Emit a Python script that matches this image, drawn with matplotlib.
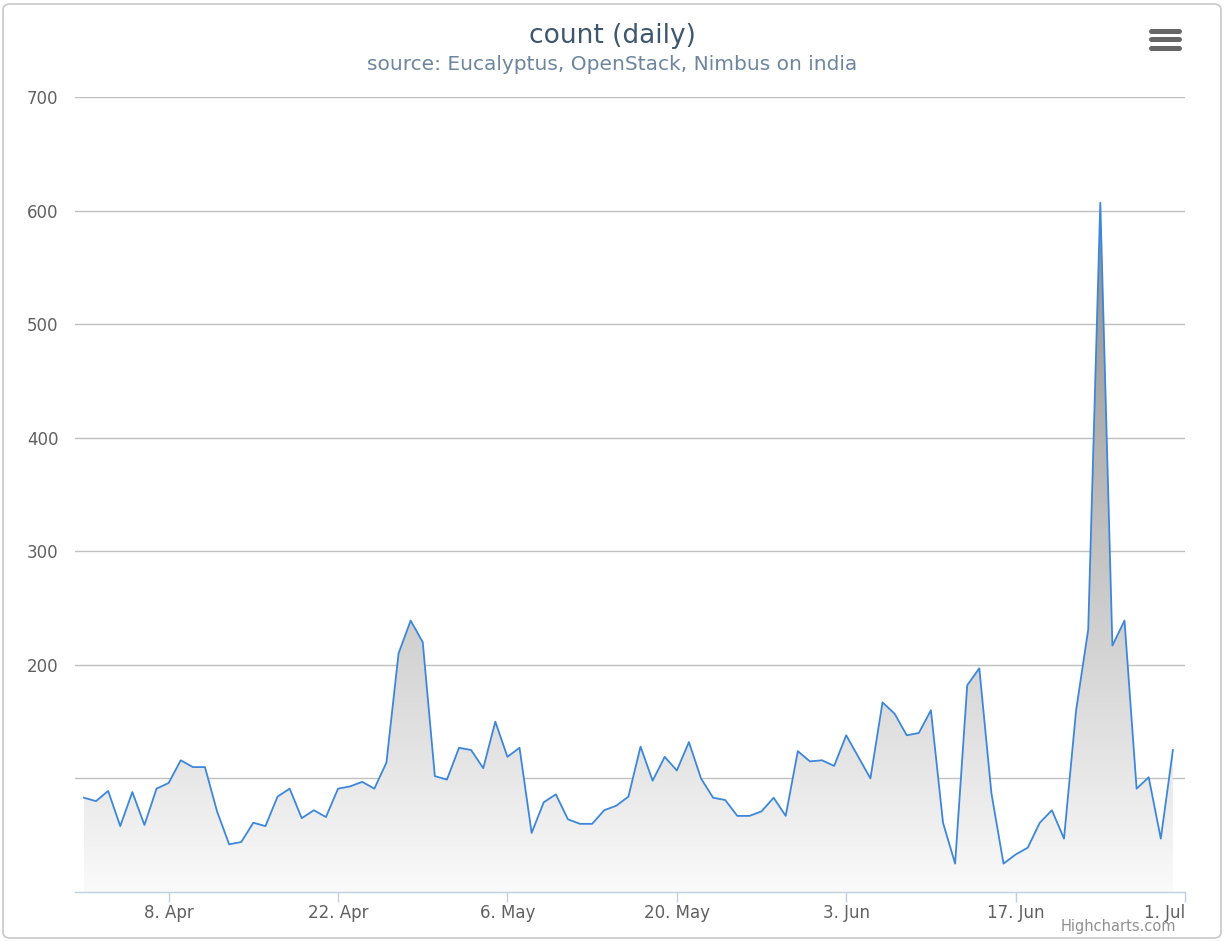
import numpy as np
import pandas as pd
import matplotlib
matplotlib.use("Agg")
import matplotlib.pyplot as plt
import matplotlib.dates as mdates
from matplotlib.patches import FancyBboxPatch
from matplotlib.lines import Line2D

# daily counts, 1 Apr .. 30 Jun
days = pd.date_range("2013-04-01", "2013-06-30", freq="D")
counts = [83, 80, 89, 58, 88, 59, 91, 96, 116, 110,
          110, 71, 42, 44, 61, 58, 84, 91, 65, 72,
          66, 91, 93, 97, 91, 114, 210, 239, 220, 102,
          99, 127, 125, 109, 150, 119, 127, 52, 79, 86,
          64, 60, 60, 72, 76, 84, 128, 98, 119, 107,
          132, 100, 83, 81, 67, 67, 71, 83, 67, 124,
          115, 116, 111, 138, 119, 100, 167, 157, 138, 140,
          160, 61, 25, 182, 197, 87, 25, 33, 39, 61,
          72, 47, 160, 231, 607, 217, 239, 91, 101, 47,
          125]
tick_dates = pd.date_range("2013-04-08", "2013-07-01", freq="14D")
y_ticks = [0, 100, 200, 300, 400, 500, 600, 700]
y_labels = ["", "", "200", "300", "400", "500", "600", "700"]

title = "count (daily)"
subtitle = "source: Eucalyptus, OpenStack, Nimbus on india"

W, H = 1225, 941
fig = plt.figure(figsize=(W / 100, H / 100), dpi=100)
ax = fig.add_axes([75 / W, 1 - 892 / H, (1185 - 75) / W, (892 - 97) / H])

x = mdates.date2num(days)
y = np.array(counts, dtype=float)

# gradient filled area
poly = ax.fill_between(x, 0, y, facecolor="none", edgecolor="none")
grad = np.linspace(0, 1, 256).reshape(-1, 1)
img = ax.imshow(grad, extent=[x[0], x[-1], 0, y.max()], origin="lower",
                aspect="auto", cmap=matplotlib.colors.LinearSegmentedColormap.from_list(
                    "g", ["#fafafa", "#8c8c8c"]), zorder=2)
img.set_clip_path(poly.get_paths()[0], transform=ax.transData)

ax.plot(x, y, color="#3d87db", lw=1.3, zorder=3)

ax.set_ylim(0, 700)
ax.set_xlim(x[0] - 0.74, mdates.date2num(pd.Timestamp("2013-07-01")))
ax.set_yticks(y_ticks)
ax.set_yticklabels(y_labels)
for v in y_ticks[1:]:
    ax.axhline(v, color="#c0c0c0", lw=1, zorder=1)

ax.set_xticks(mdates.date2num(tick_dates))
ax.xaxis.set_major_formatter(mdates.DateFormatter("%-d. %b"))
ax.tick_params(axis="x", length=7.5, width=1, color="#c0d0e0", pad=1,
               labelsize=12, labelcolor="#606060")
ax.tick_params(axis="y", length=0, pad=12, labelsize=12, labelcolor="#606060")
for lab in ax.get_xticklabels()[-1:]:
    lab.set_ha("right")

for s in ["top", "right", "left"]:
    ax.spines[s].set_visible(False)
ax.spines["bottom"].set_color("#c0d0e0")
ax.spines["bottom"].set_linewidth(1)
ax.set_facecolor("none")

fig.text(0.5, 1 - 36 / H, title, ha="center", va="center",
         fontsize=19, color="#3e576f")
fig.text(0.5, 1 - 64 / H, subtitle, ha="center", va="center",
         fontsize=14.5, color="#6d869f")
fig.text(1176 / W, 1 - 927 / H, "Highcharts.com", ha="right", va="center",
         fontsize=10.5, color="#909090")

# border
fig.add_artist(FancyBboxPatch((3 / W, 3 / H), 1 - 7 / W, 1 - 7 / H,
                              boxstyle="round,pad=0,rounding_size=0.006",
                              transform=fig.transFigure, fill=False,
                              edgecolor="#c8c8c8", lw=1.2))
# menu icon
for yy in [30.5, 39, 47.5]:
    fig.add_artist(Line2D([1151 / W, 1179 / W], [1 - yy / H, 1 - yy / H],
                          color="#666666", lw=3.6, solid_capstyle="round",
                          transform=fig.transFigure))

fig.savefig("out.png", dpi=100)
